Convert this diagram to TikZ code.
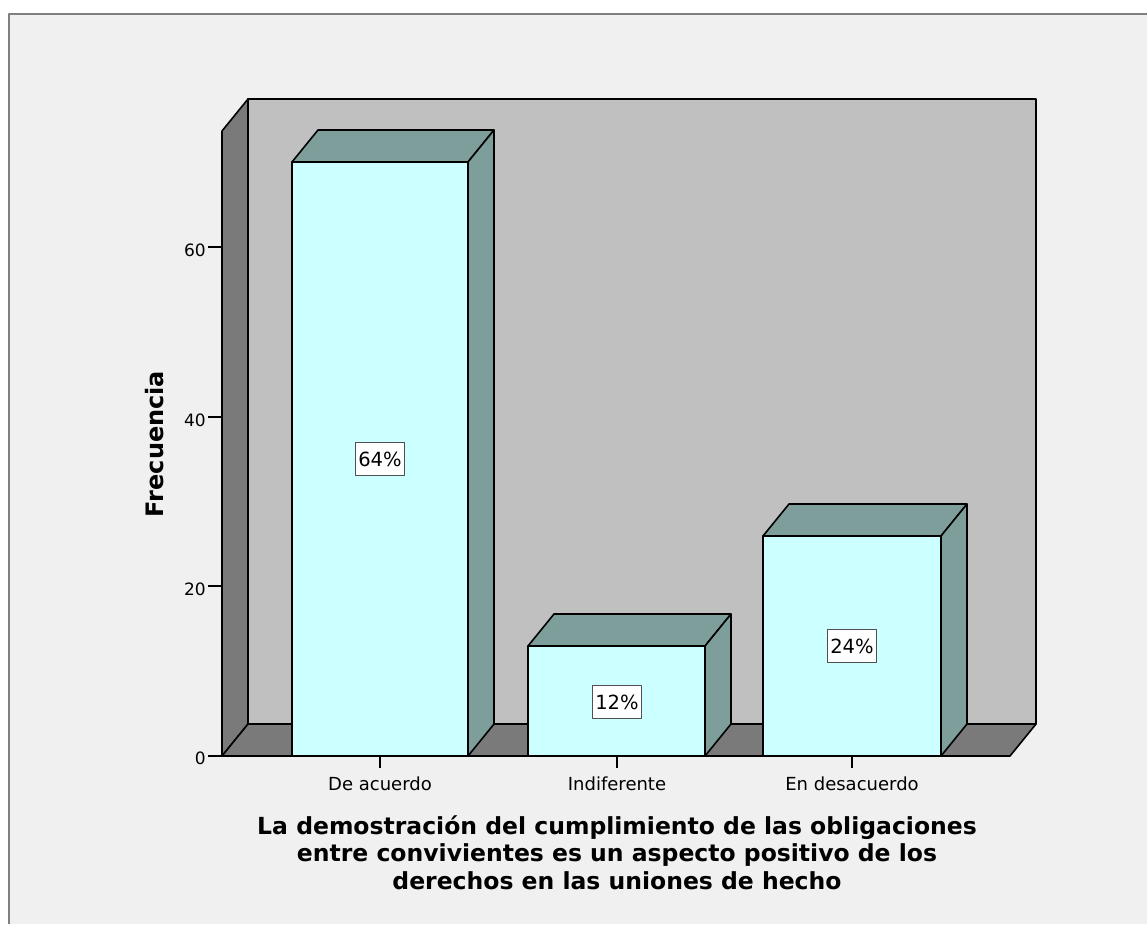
\documentclass[tikz,border=0pt]{standalone}
\usepackage{fontspec}
\setsansfont{DejaVu Sans}
\definecolor{panel}{HTML}{F0F0F0}
\definecolor{frameline}{HTML}{808080}
\definecolor{wallback}{HTML}{C0C0C0}
\definecolor{wallside}{HTML}{7A7A7A}
\definecolor{barfront}{HTML}{CCFFFF}
\definecolor{barshade}{HTML}{7E9E9B}
\definecolor{pctframe}{HTML}{505050}

\begin{document}
\begin{tikzpicture}[x=1pt, y=-1pt, line join=round,
	wall/.style={draw=black, line width=1.6pt, fill=wallside},
	back wall/.style={wall, fill=wallback},
	bar front/.style={draw=black, line width=1.6pt, fill=barfront},
	bar shade/.style={draw=black, line width=1.6pt, fill=barshade},
	pct node/.style={draw=pctframe, line width=1.4pt, fill=white, inner sep=0pt, minimum width=49pt, minimum height=33pt, font=\sffamily\fontsize{19.5}{19.5}\selectfont},
	tick label/.style={anchor=east, inner sep=0pt, font=\sffamily\fontsize{17}{17}\selectfont},
	cat label/.style={anchor=base, inner sep=0pt, font=\sffamily\fontsize{18}{18}\selectfont}]
	\useasboundingbox (0,0) rectangle (1147,924);
	% panel and frame
	\fill[white] (0,0) rectangle (1147,924);
	\fill[panel] (9,14) rectangle (1147,924);
	\draw[frameline, line width=2pt] (9,924) -- (9,14) -- (1147,14);
	% walls and floor
	\draw[back wall] (248,99) -- (1036,99) -- (1036,724) -- (248,724) -- cycle;
	\draw[wall] (222,131) -- (248,99) -- (248,724) -- (222,756) -- cycle;
	\draw[wall] (222,756) -- (248,724) -- (1036,724) -- (1010,756) -- cycle;
	% De acuerdo
	\draw[bar shade] (292,162) -- (318,130) -- (494,130) -- (468,162) -- cycle;
	\draw[bar shade] (468,162) -- (494,130) -- (494,724) -- (468,756) -- cycle;
	\draw[bar front] (292,162) rectangle (468,756);
	% Indiferente
	\draw[bar shade] (528,646) -- (554,614) -- (731,614) -- (705,646) -- cycle;
	\draw[bar shade] (705,646) -- (731,614) -- (731,724) -- (705,756) -- cycle;
	\draw[bar front] (528,646) rectangle (705,756);
	% En desacuerdo
	\draw[bar shade] (763,536) -- (789,504) -- (967,504) -- (941,536) -- cycle;
	\draw[bar shade] (941,536) -- (967,504) -- (967,724) -- (941,756) -- cycle;
	\draw[bar front] (763,536) rectangle (941,756);
	% percentages
	\node[pct node] (P1) at (380,459) {64\%};
	\node[pct node] (P2) at (617,702) {12\%};
	\node[pct node] (P3) at (852,646) {24\%};
	% axes
	\draw[line width=1.6pt] (208,756) -- (222,756) (208,586) -- (222,586) (208,417) -- (222,417) (208,247) -- (222,247);
	\node[tick label] (Y0) at (206,758) {0};
	\node[tick label] (Y20) at (206,589) {20};
	\node[tick label] (Y40) at (206,420) {40};
	\node[tick label] (Y60) at (206,250) {60};
	\draw[line width=1.6pt] (380,756) -- (380,768) (617,756) -- (617,768) (852,756) -- (852,768);
	\node[cat label] (C1) at (380,790) {De acuerdo};
	\node[cat label] (C2) at (617,790) {Indiferente};
	\node[cat label] (C3) at (852,790) {En desacuerdo};
	\node[rotate=90, anchor=base, inner sep=0pt, font=\sffamily\bfseries\fontsize{24}{24}\selectfont] (YT) at (163,444) {Frecuencia};
	\node[anchor=north, inner sep=0pt, align=center, font=\sffamily\bfseries\fontsize{23.5}{27.5}\selectfont] (XT) at (617,815) {La demostración del cumplimiento de las obligaciones\\entre convivientes es un aspecto positivo de los\\derechos en las uniones de hecho};
\end{tikzpicture}
\end{document}
